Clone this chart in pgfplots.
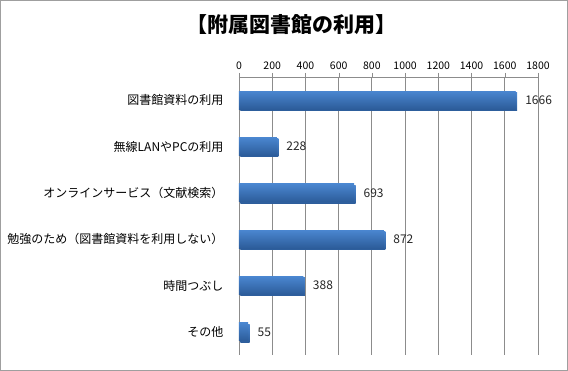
\documentclass[border=0pt]{standalone}
\usepackage{pgfplots}
\pgfplotsset{compat=1.18}
\usepackage{fontspec}
\setmainfont{Noto Sans CJK JP}
\definecolor{bartop}{HTML}{4A86D0}
\definecolor{barbot}{HTML}{2C5C9A}
\definecolor{gridc}{HTML}{8C8C8C}
\begin{document}
\begin{tikzpicture}[x=1pt,y=1pt]
\useasboundingbox (0,0) rectangle (568,371);
\draw[gray!75, line width=1pt] (0.5,0.5) rectangle (567.5,370.5);
\node[font=\fontsize{21}{21}\selectfont\bfseries] at (291,346) {【附属図書館の利用】};
\begin{axis}[
  at={(239pt,16pt)}, anchor=south west,
  scale only axis, width=299pt, height=278pt,
  xbar, bar width=18pt, bar shift=0pt,
  xmin=0, xmax=1800, ymin=-0.5, ymax=5.5,
  y dir=reverse,
  axis x line*=top, axis y line*=left,
  axis line style={gridc},
  xtick={0,200,...,1800},
  xmajorgrids, grid style={gridc, line width=0.8pt},
  ytick={0,1,2,3,4,5},
  yticklabels={図書館資料の利用,無線LANやPCの利用,オンラインサービス（文献検索）,勉強のため（図書館資料を利用しない）,時間つぶし,その他},
  minor ytick={-0.5,0.5,1.5,2.5,3.5,4.5,5.5},
  ytick style={draw=none},
  minor tick style={gridc},
  xtick style={gridc},
  tick align=outside,
  major tick length=4pt, minor tick length=4pt,
  /pgf/number format/assume math mode=true,
  /pgf/number format/1000 sep={},
  xticklabel style={font=\fontsize{10.5}{12}\selectfont},
  yticklabel style={font=\fontsize{12}{14}\selectfont, xshift=-8pt},
  nodes near coords,
  nodes near coords align={horizontal},
  every node near coord/.append style={font=\fontsize{12}{14}\selectfont, xshift=6pt, black!85},
  every axis plot/.append style={draw=none, top color=bartop, bottom color=barbot,
    preaction={fill=black!22, transform canvas={xshift=1.5pt, yshift=-1.5pt}}},
]
\addplot coordinates {(1666,0)};
\addplot coordinates {(228,1)};
\addplot coordinates {(693,2)};
\addplot coordinates {(872,3)};
\addplot coordinates {(388,4)};
\addplot coordinates {(55,5)};
\end{axis}
\end{tikzpicture}
\end{document}
